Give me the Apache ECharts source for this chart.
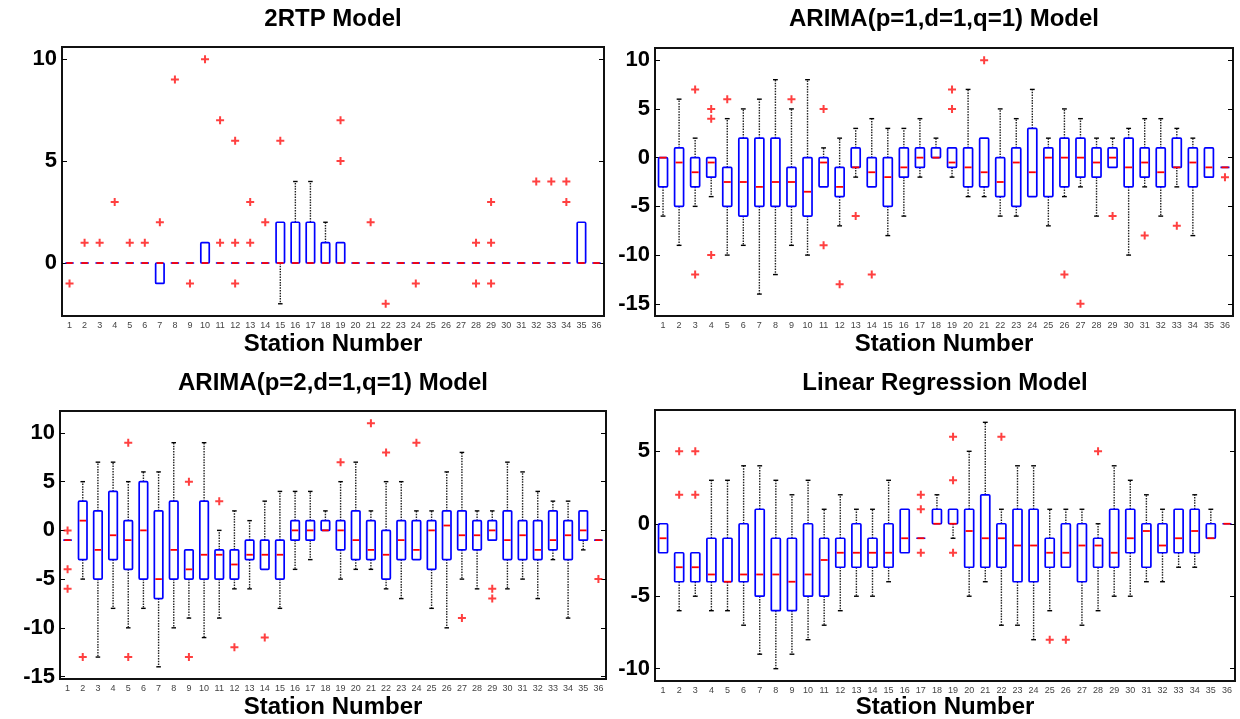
<!DOCTYPE html>
<html>
<head>
<meta charset="utf-8">
<script src="https://cdn.jsdelivr.net/npm/echarts@6/dist/echarts.min.js"></script>
<style>html,body{margin:0;padding:0;background:#fff}#c{width:1240px;height:719px}</style>
</head>
<body>
<div id="c"></div>
<script>
// ---- data ----
const stations = Array.from({length:36},(_,i)=>String(i+1));
const titles = ['2RTP Model','ARIMA(p=1,d=1,q=1) Model','ARIMA(p=2,d=1,q=1) Model','Linear Regression Model'];
const xLabel = 'Station Number';

// [min (whisker), q1, median, q3, max (whisker)] per station
const stats2RTP = [
 [0,0,0,0,0],[0,0,0,0,0],[0,0,0,0,0],[0,0,0,0,0],[0,0,0,0,0],[0,0,0,0,0],
 [-1,-1,0,0,0],[0,0,0,0,0],[0,0,0,0,0],[0,0,0,1,1],[0,0,0,0,0],[0,0,0,0,0],
 [0,0,0,0,0],[0,0,0,0,0],[-2,0,0,2,2],[0,0,0,2,4],[0,0,0,2,4],[0,0,0,1,2],
 [0,0,0,1,1],[0,0,0,0,0],[0,0,0,0,0],[0,0,0,0,0],[0,0,0,0,0],[0,0,0,0,0],
 [0,0,0,0,0],[0,0,0,0,0],[0,0,0,0,0],[0,0,0,0,0],[0,0,0,0,0],[0,0,0,0,0],
 [0,0,0,0,0],[0,0,0,0,0],[0,0,0,0,0],[0,0,0,0,0],[0,0,0,2,2],[0,0,0,0,0]
];
const out2RTP = [[1,-1],[2,1],[3,1],[4,3],[5,1],[6,1],[7,2],[8,9],[9,-1],[10,10],
 [11,7],[11,1],[12,6],[12,1],[12,-1],[13,3],[13,1],[14,2],[15,6],[19,7],[19,5],
 [21,2],[22,-2],[24,-1],[28,1],[28,-1],[29,3],[29,1],[29,-1],[32,4],[33,4],[34,4],[34,3]];

const statsArima111 = [
 [-6,-3,0,0,0],[-9,-5,-0.5,1,6],[-5,-3,-1.5,0,2],[-4,-2,-0.5,0,0],[-10,-5,-2.5,-1,4],[-9,-6,-2.5,2,5],
 [-14,-5,-3,2,6],[-12,-5,-2.5,2,8],[-9,-5,-2.5,-1,5],[-10,-6,-3.5,0,8],[-3,-3,-0.5,0,1],[-7,-4,-3,-1,2],
 [-2,-1,-1,1,3],[-3,-3,-1.5,0,4],[-8,-5,-2,0,3],[-6,-2,-1,1,3],[-2,-1,0,1,4],[0,0,0,1,2],
 [-2,-1,-0.5,1,1],[-4,-3,-1,1,7],[-4,-3,-1.5,2,2],[-6,-4,-2.5,0,5],[-6,-5,-0.5,1,4],[-4,-4,-1.5,3,7],
 [-7,-4,0,1,2],[-4,-3,0,2,5],[-3,-2,0,2,4],[-6,-2,-0.5,1,2],[-1,-1,0,1,2],[-10,-3,-1,2,3],
 [-3,-2,-0.5,1,4],[-6,-3,-1.5,1,4],[-3,-1,-1,2,3],[-8,-3,-0.5,1,2],[-2,-2,-1,1,1],[-1,-1,-1,-1,-1]
];
const outArima111 = [[3,7],[3,-12],[4,5],[4,4],[4,-10],[5,6],[9,6],[11,5],[11,-9],[12,-13],[13,-6],
 [14,-12],[19,7],[19,5],[21,10],[26,-12],[27,-15],[29,-6],[31,-8],[33,-7],[36,-2]];

const statsArima211 = [
 [-1,-1,-1,-1,-1],[-5,-3,1,3,5],[-13,-5,-2,2,7],[-8,-3,-0.5,4,7],[-10,-4,-1,1,5],[-8,-5,0,5,6],
 [-14,-7,-5,2,6],[-10,-5,-2,3,9],[-9,-5,-4,-2,-2],[-11,-5,-2.5,3,9],[-9,-5,-2.5,-2,0],[-6,-5,-3.5,-2,2],
 [-6,-3,-2.5,-1,1],[-4,-4,-2.5,-1,3],[-8,-5,-2.5,-1,4],[-4,-1,0,1,4],[-3,-1,0,1,4],[0,0,0,1,2],
 [-5,-2,0,1,5],[-4,-3,-1,2,7],[-4,-3,-2,1,2],[-6,-5,-2.5,0,5],[-7,-3,-1,1,5],[-3,-3,-2,1,2],
 [-8,-4,0,1,2],[-10,-3,0.5,2,6],[-5,-2,-0.5,2,8],[-6,-2,-0.5,1,2],[-1,-1,0,1,2],[-6,-3,-1,2,7],
 [-5,-3,-0.5,1,6],[-7,-3,-2,1,4],[-3,-2,-1,2,3],[-9,-3,-0.5,1,3],[-2,-1,0,2,2],[-1,-1,-1,-1,-1]
];
const outArima211 = [[1,0],[1,-4],[1,-6],[2,-13],[5,9],[5,-13],[9,5],[9,-13],[11,3],[12,-12],[14,-11],
 [19,7],[21,11],[22,8],[24,9],[27,-9],[29,-6],[29,-7],[36,-5]];

const statsLinReg = [
 [-2,-2,-1,0,0],[-6,-4,-3,-2,-2],[-5,-4,-3,-2,-2],[-6,-4,-3.5,-1,3],[-6,-4,-4,-1,3],[-7,-4,-3.5,0,4],
 [-9,-5,-3.5,1,4],[-10,-6,-3.5,-1,3],[-9,-6,-4,-1,2],[-8,-5,-3.5,0,3],[-7,-5,-2.5,-1,1],[-6,-3,-2,-1,2],
 [-5,-3,-2,0,1],[-5,-3,-2,-1,1],[-4,-3,-2,0,3],[-2,-2,-1,1,1],[-1,-1,-1,-1,-1],[0,0,0,1,2],
 [-1,0,0,1,1],[-5,-3,-0.5,1,5],[-4,-3,-1,2,7],[-7,-3,-1,0,1],[-7,-4,-1.5,1,4],[-8,-4,-1.5,1,4],
 [-6,-3,-2,-1,1],[-3,-3,-2,0,1],[-7,-4,-1.5,0,1],[-6,-3,-1.5,-1,0],[-5,-3,-2,1,4],[-5,-2,-1,1,3],
 [-4,-3,-0.5,0,2],[-4,-2,-1.5,0,1],[-3,-2,-1,1,1],[-3,-2,-0.5,1,2],[-1,-1,-1,0,1],[0,0,0,0,0]
];
const outLinReg = [[2,5],[2,2],[3,5],[3,2],[17,2],[17,1],[17,-2],[19,6],[19,3],[19,-2],[22,6],
 [25,-8],[26,-8],[28,5]];

const yTicks1 = [0,5,10];
const yTicks2 = [-15,-10,-5,0,5,10];
const yTicks3 = [-15,-10,-5,0,5,10];
const yTicks4 = [-10,-5,0,5];

// ---- layout ----
const panels = [
  {stats: stats2RTP, outs: out2RTP, ticks: yTicks1, min:-2.6, max:10.6, left:62, top:47, width:542, height:269},
  {stats: statsArima111, outs: outArima111, ticks: yTicks2, min:-16.25, max:11.25, left:655, top:48, width:578, height:268},
  {stats: statsArima211, outs: outArima211, ticks: yTicks3, min:-15.25, max:12.25, left:60, top:411, width:546, height:268},
  {stats: statsLinReg, outs: outLinReg, ticks: yTicks4, min:-10.85, max:7.85, left:655, top:410, width:580, height:271}
];

const FONT = "'Liberation Sans', Arial, sans-serif";

function renderBox(params, api) {
  const x = api.value(0);
  const mn = api.value(1), q1 = api.value(2), md = api.value(3), q3 = api.value(4), mx = api.value(5);
  const band = api.size([1, 0])[0];
  const bw = band * 0.56, cw = band * 0.3;
  const cx = api.coord([x, md])[0];
  const Y = v => api.coord([x, v])[1];
  const children = [];
  const dash = {stroke:'#222', lineWidth:1.4, lineDash:[1.5,1.2], fill:null};
  const cap = {stroke:'#000', lineWidth:1.4, fill:null};
  if (mx > q3) {
    children.push({type:'line', shape:{x1:cx,y1:Y(q3),x2:cx,y2:Y(mx)}, style:dash});
    children.push({type:'line', shape:{x1:cx-cw/2,y1:Y(mx),x2:cx+cw/2,y2:Y(mx)}, style:cap});
  }
  if (mn < q1) {
    children.push({type:'line', shape:{x1:cx,y1:Y(q1),x2:cx,y2:Y(mn)}, style:dash});
    children.push({type:'line', shape:{x1:cx-cw/2,y1:Y(mn),x2:cx+cw/2,y2:Y(mn)}, style:cap});
  }
  children.push({type:'rect', shape:{x:cx-bw/2, y:Y(q3), width:bw, height:Y(q1)-Y(q3), r:1},
    style:{stroke:'#0000ff', lineWidth:1.7, fill:null}});
  children.push({type:'line', shape:{x1:cx-bw/2+1,y1:Y(md),x2:cx+bw/2-1,y2:Y(md)},
    style:{stroke:'#ff0000', lineWidth:1.8}});
  return {type:'group', children};
}

const grid = [], xAxis = [], yAxis = [], series = [], graphic = [];
panels.forEach((p, i) => {
  grid.push({left:p.left, top:p.top, width:p.width, height:p.height, show:true,
    borderColor:'#111', borderWidth:2, backgroundColor:'#fff', containLabel:false});
  xAxis.push({type:'category', gridIndex:i, data:stations, boundaryGap:true,
    axisLine:{show:false}, axisTick:{show:false},
    axisLabel:{interval:0, fontSize:9, color:'#444', margin:5, fontFamily:FONT}});
  yAxis.push({type:'value', gridIndex:i, min:p.min, max:p.max, splitLine:{show:false},
    axisLine:{show:false},
    axisTick:{show:true, inside:true, length:5, customValues:p.ticks, lineStyle:{color:'#000', width:1}},
    axisLabel:{customValues:p.ticks, fontSize:22, fontWeight:'bold', color:'#000', margin:5, fontFamily:FONT}});
  yAxis.push({type:'value', gridIndex:i, position:'right', min:p.min, max:p.max, splitLine:{show:false},
    axisLine:{show:false},
    axisTick:{show:true, inside:true, length:5, customValues:p.ticks, lineStyle:{color:'#000', width:1}},
    axisLabel:{show:false}});
  series.push({type:'custom', xAxisIndex:i, yAxisIndex:2*i, renderItem:renderBox,
    encode:{x:0, y:[1,2,3,4,5]}, silent:true, clip:false,
    data:p.stats.map((s, k) => [k, s[0], s[1], s[2], s[3], s[4]])});
  series.push({type:'scatter', xAxisIndex:i, yAxisIndex:2*i, silent:true,
    symbol:'path://M3,0h2v3h3v2h-3v3h-2v-3h-3v-2h3z', symbolSize:8,
    itemStyle:{color:'#ff1010'}, z:5,
    data:p.outs.map(o => [o[0]-1, o[1]])});
  const cx = p.left + p.width/2;
  graphic.push({type:'text', x:cx, y:(i<2?19:383), style:{text:titles[i], font:"bold 24px "+FONT,
    fill:'#000', textAlign:'center', textVerticalAlign:'middle'}});
  graphic.push({type:'text', x:cx, y:(i<2?344:707), style:{text:xLabel, font:"bold 24px "+FONT,
    fill:'#000', textAlign:'center', textVerticalAlign:'middle'}});
});

const chart = echarts.init(document.getElementById('c'), null, {renderer:'canvas'});
chart.setOption({backgroundColor:'#fff', animation:false, grid, xAxis, yAxis, series, graphic});
</script>
</body>
</html>
